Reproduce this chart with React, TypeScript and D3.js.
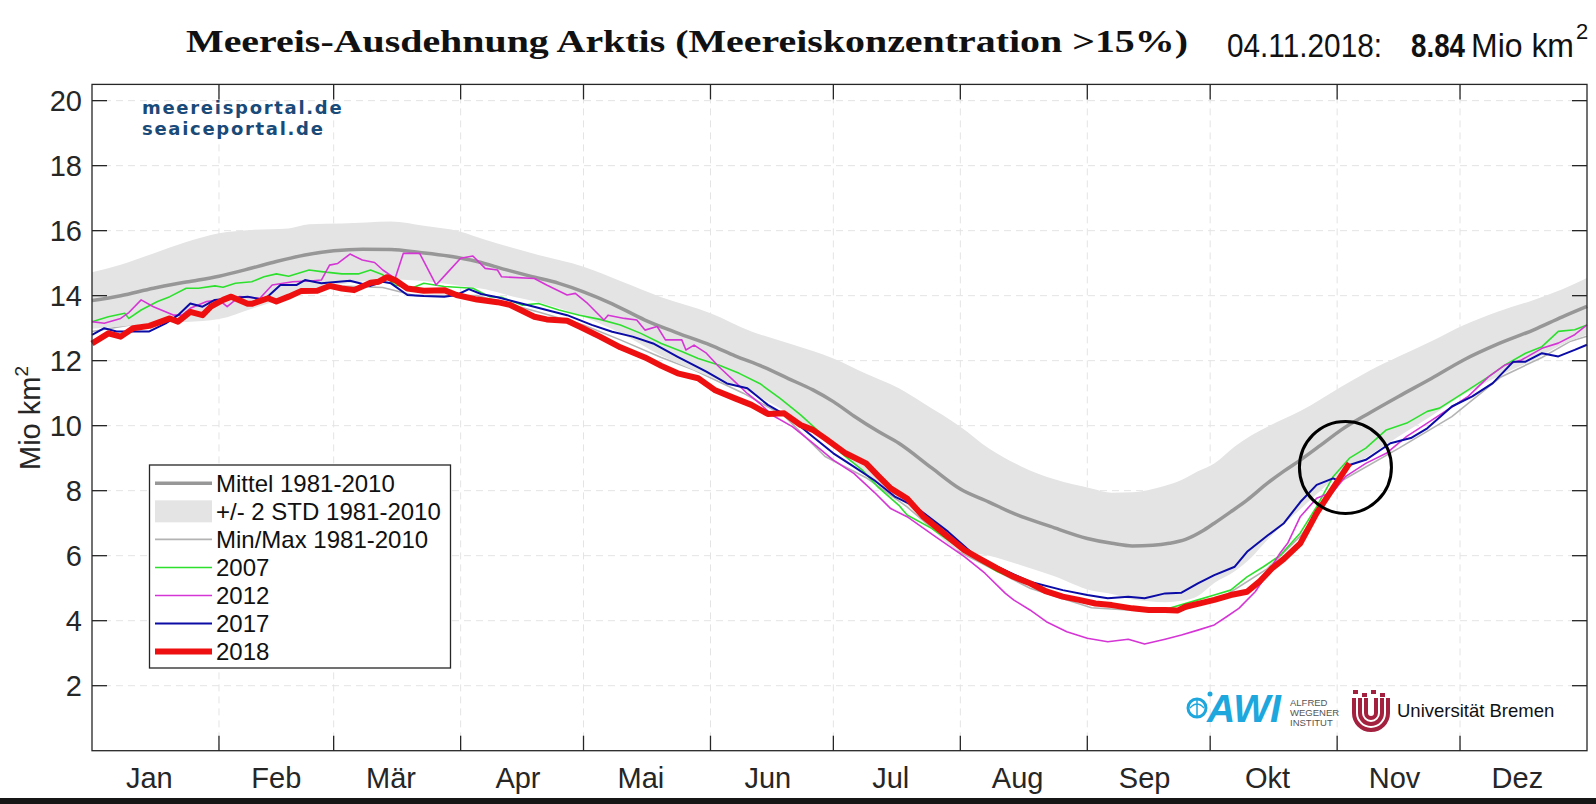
import { useRef, useEffect } from "react";
import * as d3 from "d3";

type Pt = [number, number];

// day of year -> Mio km²
const mean1981: Pt[] = [
  [1, 13.85], [8, 14.0], [16, 14.23], [24, 14.42], [32, 14.6], [40, 14.85], [46, 15.05], [53, 15.25], [60, 15.38],
  [67, 15.43], [74, 15.42], [81, 15.33], [88, 15.22], [95, 15.05], [102, 14.8], [108, 14.6], [115, 14.38], [121, 14.12],
  [128, 13.75], [136, 13.25], [144, 12.85], [152, 12.48], [158, 12.15], [165, 11.8], [171, 11.45], [177, 11.1], [182, 10.74],
  [187, 10.3], [193, 9.82], [198, 9.46], [206, 8.7], [213, 8.05], [220, 7.65], [226, 7.3], [235, 6.9], [244, 6.53],
  [250, 6.38], [255, 6.3], [260, 6.32], [264, 6.38], [268, 6.5], [272, 6.75], [275, 7.0], [279, 7.35], [283, 7.71],
  [288, 8.23], [292, 8.6], [296, 8.94], [301, 9.4], [306, 9.87], [313, 10.4], [320, 10.9], [328, 11.45], [336, 12.03],
  [344, 12.5], [353, 12.95], [360, 13.35], [366, 13.67],
];

const stdDays = [
  1, 8, 16, 24, 32, 40, 49, 54, 62, 68, 74, 82, 91, 97, 103, 110, 121, 130, 140, 152, 162, 172, 182, 190, 198, 204, 213,
  220, 228, 236, 245, 250, 255, 259, 263, 267, 271, 275, 280, 284, 288, 296, 306, 313, 320, 328, 336, 344, 353, 360, 366,
];
const stdUpper = [
  14.72, 14.95, 15.3, 15.65, 15.92, 16.02, 16.07, 16.2, 16.22, 16.25, 16.28, 16.15, 15.97, 15.72, 15.5, 15.25, 14.89,
  14.45, 13.95, 13.46, 12.9, 12.5, 12.07, 11.6, 11.15, 10.69, 9.97, 9.3, 8.74, 8.35, 8.07, 7.94, 7.95, 8.02, 8.15, 8.33,
  8.6, 8.84, 9.36, 9.7, 9.97, 10.45, 11.2, 11.7, 12.13, 12.6, 13.1, 13.5, 13.87, 14.2, 14.54,
];
const stdLower = [
  12.98, 13.05, 13.16, 13.19, 13.28, 13.6, 13.95, 14.15, 14.35, 14.45, 14.5, 14.45, 14.3, 14.2, 14.0, 13.8, 13.35,
  12.85, 12.15, 11.5, 11.0, 10.3, 9.41, 8.5, 7.77, 7.11, 6.13, 6.0, 5.7, 5.37, 4.93, 4.82, 4.65, 4.6, 4.57, 4.61, 4.76,
  5.16, 5.52, 5.94, 6.49, 7.43, 8.54, 9.1, 9.67, 10.3, 10.96, 11.5, 12.03, 12.5, 12.8,
];

const min1981: Pt[] = [
  [1, 12.9], [15, 13.2], [32, 13.9], [45, 14.0], [60, 14.3], [72, 14.25], [80, 14.0], [95, 14.0], [110, 13.5],
  [121, 13.1], [130, 12.64], [140, 12.1], [148, 11.71], [160, 11.0], [170, 10.3], [180, 9.05], [190, 8.4], [200, 7.5],
  [213, 6.1], [230, 5.0], [245, 4.4], [258, 4.3], [268, 4.35], [278, 4.8], [288, 5.6], [296, 6.6], [306, 8.3],
  [320, 9.3], [333, 10.28], [345, 11.5], [355, 12.1], [362, 12.6], [366, 12.75],
];

const y2007: Pt[] = [
  [1, 13.2], [5, 13.35], [9, 13.46], [10, 13.3], [13, 13.56], [17, 13.82], [20, 13.97], [24, 14.23], [27, 14.23],
  [31, 14.3], [33, 14.26], [36, 14.38], [40, 14.43], [43, 14.58], [46, 14.67], [49, 14.6], [54, 14.79], [57, 14.74],
  [62, 14.67], [66, 14.67], [69, 14.79], [72, 14.64], [75, 14.33], [79, 14.23], [82, 14.38], [87, 14.28], [90, 14.26],
  [94, 14.23], [98, 13.97], [101, 13.95], [106, 13.71], [110, 13.76], [115, 13.56], [120, 13.4], [125, 13.27], [130, 13.1],
  [135, 12.84], [140, 12.53], [145, 12.28], [149, 12.07], [154, 11.87], [159, 11.61], [164, 11.3], [169, 10.84],
  [174, 10.33], [179, 9.76], [184, 9.15], [189, 8.64], [193, 8.1], [198, 7.55], [200, 7.25], [206, 6.84], [214, 6.12],
  [222, 5.51], [230, 5.1], [234, 4.9], [242, 4.66], [250, 4.48], [258, 4.38], [264, 4.38], [271, 4.64], [275, 4.79],
  [279, 4.94], [283, 5.35], [287, 5.66], [291, 6.0], [296, 6.7], [300, 7.51], [304, 8.43], [308, 9.0], [312, 9.31],
  [317, 9.87], [322, 10.08], [327, 10.44], [330, 10.54], [337, 11.1], [342, 11.51], [346, 11.87], [351, 12.23],
  [355, 12.43], [359, 12.9], [363, 12.95], [366, 13.1],
];

const y2012: Pt[] = [
  [1, 13.2], [4, 13.15], [8, 13.3], [10, 13.48], [13, 13.87], [16, 13.66], [21, 13.4], [23, 13.4], [25, 13.61],
  [29, 13.82], [32, 13.87], [34, 13.66], [37, 13.97], [42, 13.92], [45, 14.33], [50, 14.43], [55, 14.46], [57, 14.48],
  [59, 14.94], [61, 14.99], [64, 15.28], [67, 15.1], [70, 15.02], [72, 14.79], [75, 14.53], [77, 15.3], [81, 15.3],
  [85, 14.33], [88, 14.74], [91, 15.15], [94, 15.22], [97, 14.84], [100, 14.79], [101, 14.58], [109, 14.53], [112, 14.33],
  [117, 14.02], [119, 14.07], [122, 13.76], [126, 13.25], [127, 13.4], [131, 13.3], [134, 13.25], [136, 12.94],
  [139, 13.05], [141, 12.64], [145, 12.64], [146, 12.33], [148, 12.48], [151, 12.23], [154, 11.82], [158, 11.35],
  [161, 10.99], [164, 10.69], [167, 10.33], [172, 9.97], [177, 9.46], [182, 8.94], [187, 8.53], [192, 7.95], [196, 7.45],
  [200, 7.2], [207, 6.58], [214, 5.97], [219, 5.46], [224, 4.84], [226, 4.64], [230, 4.33], [234, 3.97], [239, 3.66],
  [244, 3.46], [249, 3.35], [254, 3.43], [258, 3.28], [263, 3.43], [267, 3.56], [271, 3.71], [275, 3.87], [278, 4.12],
  [281, 4.38], [285, 4.89], [288, 5.46], [291, 6.07], [293, 6.4], [296, 7.2], [300, 7.77], [304, 7.97], [307, 8.43],
  [312, 8.84], [317, 9.15], [322, 9.67], [327, 10.08], [332, 10.49], [337, 10.9], [342, 11.51], [346, 11.87],
  [350, 12.02], [355, 12.38], [359, 12.54], [363, 12.8], [366, 13.1],
];

const y2017: Pt[] = [
  [1, 12.79], [4, 13.0], [7, 12.9], [11, 12.9], [15, 12.9], [19, 13.15], [22, 13.4], [25, 13.76], [28, 13.66],
  [31, 13.87], [35, 13.92], [39, 13.97], [43, 13.87], [47, 14.33], [51, 14.33], [53, 14.48], [57, 14.38], [64, 14.46],
  [69, 14.3], [72, 14.43], [74, 14.38], [78, 14.02], [82, 13.99], [87, 13.97], [90, 14.02], [93, 14.2], [96, 14.05],
  [100, 13.95], [104, 13.82], [112, 13.56], [117, 13.4], [123, 13.1], [128, 12.89], [133, 12.74], [138, 12.53],
  [144, 12.12], [151, 11.66], [156, 11.3], [161, 11.15], [166, 10.64], [171, 10.28], [177, 9.66], [182, 9.15],
  [187, 8.74], [192, 8.32], [197, 7.82], [202, 7.51], [210, 6.74], [216, 6.07], [222, 5.66], [230, 5.2], [238, 4.94],
  [244, 4.79], [249, 4.69], [254, 4.74], [258, 4.69], [263, 4.84], [267, 4.86], [271, 5.15], [275, 5.4], [280, 5.66],
  [283, 6.12], [288, 6.62], [292, 7.0], [296, 7.65], [300, 8.18], [304, 8.38], [305, 8.33], [308, 8.79], [312, 8.95],
  [318, 9.46], [323, 9.62], [327, 9.92], [333, 10.59], [338, 10.9], [343, 11.31], [348, 11.97], [351, 11.97],
  [355, 12.23], [359, 12.13], [363, 12.33], [366, 12.49],
];

const y2018: Pt[] = [
  [1, 12.53], [5, 12.84], [8, 12.74], [11, 13.0], [15, 13.07], [20, 13.3], [22, 13.2], [25, 13.5], [28, 13.4],
  [30, 13.66], [33, 13.87], [35, 13.97], [39, 13.75], [40, 13.75], [44, 13.92], [46, 13.82], [49, 13.97], [52, 14.14],
  [56, 14.15], [59, 14.3], [62, 14.22], [65, 14.17], [69, 14.4], [71, 14.43], [73, 14.57], [75, 14.48], [78, 14.22],
  [82, 14.15], [87, 14.17], [90, 14.02], [95, 13.88], [100, 13.8], [103, 13.72], [109, 13.35], [112, 13.27], [117, 13.23],
  [120, 13.05], [125, 12.74], [130, 12.41], [136, 12.1], [140, 11.84], [144, 11.61], [149, 11.46], [153, 11.1],
  [158, 10.84], [162, 10.64], [166, 10.36], [170, 10.38], [174, 10.02], [177, 9.87], [180, 9.61], [185, 9.15],
  [190, 8.84], [193, 8.45], [196, 8.07], [200, 7.76], [204, 7.2], [210, 6.58], [214, 6.17], [218, 5.89], [222, 5.61],
  [226, 5.35], [230, 5.15], [234, 4.9], [238, 4.74], [242, 4.64], [246, 4.53], [250, 4.48], [255, 4.38], [259, 4.33],
  [263, 4.33], [266, 4.31], [268, 4.43], [272, 4.55], [275, 4.64], [279, 4.79], [283, 4.89], [286, 5.2], [289, 5.6],
  [292, 5.9], [296, 6.38], [300, 7.31], [304, 8.08], [308, 8.84],
];

const monthStarts = [32, 60, 91, 121, 152, 182, 213, 244, 274, 305, 335];
const monthLabelDays = [15, 46, 74, 105, 135, 166, 196, 227, 258, 288, 319, 349];
const monthNames = ["Jan", "Feb", "Mär", "Apr", "Mai", "Jun", "Jul", "Aug", "Sep", "Okt", "Nov", "Dez"];
const yTicks = [2, 4, 6, 8, 10, 12, 14, 16, 18, 20];

const W = 1596;
const H = 804;
const FONT = "'Liberation Sans', Arial, sans-serif";

export default function App() {
  const svgRef = useRef<SVGSVGElement | null>(null);

  useEffect(() => {
    if (!svgRef.current) return;
    const svg = d3.select(svgRef.current);
    svg.selectAll("*").remove();

    const left = 92, right = 1587, top = 84.4, bottom = 750.7;
    const x = d3.scaleLinear().domain([1, 366]).range([left, right]);
    const y = d3.scaleLinear().domain([0, 20.5]).range([bottom, top]);

    svg.append("rect").attr("width", W).attr("height", H).attr("fill", "#fff");

    // grid
    const grid = svg.append("g").attr("stroke", "#e4e4e4").attr("stroke-width", 1).attr("stroke-dasharray", "7,5");
    grid.selectAll("line.h").data(yTicks).enter().append("line")
      .attr("x1", left).attr("x2", right).attr("y1", (d) => y(d)).attr("y2", (d) => y(d));
    grid.selectAll("line.v").data(monthStarts).enter().append("line")
      .attr("y1", top).attr("y2", bottom).attr("x1", (d) => x(d)).attr("x2", (d) => x(d));

    const line = d3.line<Pt>().x((d) => x(d[0])).y((d) => y(d[1])).curve(d3.curveLinear);

    // min line (under band)
    svg.append("path").attr("d", line(min1981) as string).attr("fill", "none")
      .attr("stroke", "#b3b3b3").attr("stroke-width", 1.6);

    // +/- 2 STD band
    const area = d3.area<number>()
      .x((_, i) => x(stdDays[i]))
      .y0((_, i) => y(stdLower[i]))
      .y1((_, i) => y(stdUpper[i]))
      .curve(d3.curveMonotoneX);
    svg.append("path").attr("d", area(stdUpper) as string).attr("fill", "#e4e4e4");

    // mean
    svg.append("path").attr("d", line.curve(d3.curveMonotoneX)(mean1981) as string).attr("fill", "none")
      .attr("stroke", "#979797").attr("stroke-width", 3.5);
    line.curve(d3.curveLinear);

    const years: { data: Pt[]; color: string; w: number }[] = [
      { data: y2007, color: "#2ee02e", w: 1.6 },
      { data: y2012, color: "#d535d5", w: 1.6 },
      { data: y2017, color: "#0b0ba6", w: 2 },
      { data: y2018, color: "#ee1010", w: 6 },
    ];
    years.forEach((s) => {
      svg.append("path").attr("d", line(s.data) as string).attr("fill", "none")
        .attr("stroke", s.color).attr("stroke-width", s.w).attr("stroke-linejoin", "round");
    });

    // circle around latest value
    const last = y2018[y2018.length - 1];
    svg.append("circle").attr("cx", x(last[0]) - 4).attr("cy", y(last[1]) + 4).attr("r", 46)
      .attr("fill", "none").attr("stroke", "#000").attr("stroke-width", 3);

    // axes box and ticks
    svg.append("rect").attr("x", left).attr("y", top).attr("width", right - left).attr("height", bottom - top)
      .attr("fill", "none").attr("stroke", "#262626").attr("stroke-width", 1.3);
    const ticks = svg.append("g").attr("stroke", "#262626").attr("stroke-width", 1.3);
    yTicks.forEach((t) => {
      ticks.append("line").attr("x1", left).attr("x2", left + 15).attr("y1", y(t)).attr("y2", y(t));
      ticks.append("line").attr("x1", right - 15).attr("x2", right).attr("y1", y(t)).attr("y2", y(t));
    });
    monthStarts.forEach((m) => {
      ticks.append("line").attr("y1", bottom).attr("y2", bottom - 15).attr("x1", x(m)).attr("x2", x(m));
      ticks.append("line").attr("y1", top).attr("y2", top + 15).attr("x1", x(m)).attr("x2", x(m));
    });

    svg.append("g").selectAll("text").data(yTicks).enter().append("text")
      .attr("x", left - 10).attr("y", (d) => y(d)).attr("dy", "0.36em").attr("text-anchor", "end")
      .attr("font-family", FONT).attr("font-size", 29).attr("fill", "#262626").text((d) => d);
    svg.append("g").selectAll("text").data(monthNames).enter().append("text")
      .attr("x", (_, i) => x(monthLabelDays[i])).attr("y", 788).attr("text-anchor", "middle")
      .attr("font-family", FONT).attr("font-size", 29).attr("fill", "#262626").text((d) => d);

    // y label
    const yl = svg.append("text").attr("transform", "translate(40,418) rotate(-90)").attr("text-anchor", "middle")
      .attr("font-family", FONT).attr("font-size", 29).attr("fill", "#262626");
    yl.append("tspan").text("Mio km");
    yl.append("tspan").attr("font-size", 19).attr("dy", -12).text("2");

    // title
    svg.append("text").attr("x", 186).attr("y", 52).attr("textLength", 1002).attr("lengthAdjust", "spacingAndGlyphs")
      .attr("font-family", "'Liberation Serif', 'Times New Roman', serif").attr("font-weight", "bold")
      .attr("font-size", 32).attr("fill", "#111").text("Meereis-Ausdehnung Arktis (Meereiskonzentration >15%)");
    const info = svg.append("g").attr("font-family", FONT).attr("font-size", 34).attr("fill", "#111");
    info.append("text").attr("x", 1227).attr("y", 57).attr("textLength", 155).attr("lengthAdjust", "spacingAndGlyphs")
      .text("04.11.2018:");
    info.append("text").attr("x", 1411).attr("y", 57).attr("textLength", 54).attr("lengthAdjust", "spacingAndGlyphs")
      .attr("font-weight", "bold").text(last[1].toFixed(2));
    const unit = info.append("text").attr("x", 1471).attr("y", 57);
    unit.append("tspan").attr("textLength", 103).attr("lengthAdjust", "spacingAndGlyphs").text("Mio km");
    unit.append("tspan").attr("font-size", 22).attr("dx", 2).attr("dy", -18).text("2");

    // watermark
    const wm = svg.append("g").attr("font-family", "'DejaVu Sans', sans-serif").attr("font-weight", "bold")
      .attr("font-size", 18).attr("fill", "#1a4a78").attr("letter-spacing", 1.7);
    wm.append("text").attr("x", 142).attr("y", 114).text("meereisportal.de");
    wm.append("text").attr("x", 142).attr("y", 135).text("seaiceportal.de");

    // legend
    const lg = svg.append("g");
    lg.append("rect").attr("x", 149.5).attr("y", 465).attr("width", 301).attr("height", 203)
      .attr("fill", "#fff").attr("stroke", "#262626").attr("stroke-width", 1.3);
    const legendItems = [
      { label: "Mittel 1981-2010", color: "#979797", w: 3.5, patch: false },
      { label: "+/- 2 STD 1981-2010", color: "#e4e4e4", w: 0, patch: true },
      { label: "Min/Max 1981-2010", color: "#b3b3b3", w: 1.6, patch: false },
      { label: "2007", color: "#2ee02e", w: 1.6, patch: false },
      { label: "2012", color: "#d535d5", w: 1.6, patch: false },
      { label: "2017", color: "#0b0ba6", w: 2, patch: false },
      { label: "2018", color: "#ee1010", w: 6, patch: false },
    ];
    legendItems.forEach((it, i) => {
      const cy = 483.3 + i * 28.05;
      if (it.patch) {
        lg.append("rect").attr("x", 155).attr("y", cy - 11).attr("width", 57).attr("height", 22).attr("fill", it.color);
      } else {
        lg.append("line").attr("x1", 155).attr("x2", 212).attr("y1", cy).attr("y2", cy)
          .attr("stroke", it.color).attr("stroke-width", it.w);
      }
      lg.append("text").attr("x", 216).attr("y", cy).attr("dy", "0.36em").attr("font-family", FONT)
        .attr("font-size", 24).attr("fill", "#111").text(it.label);
    });

    // AWI logo
    const awi = svg.append("g");
    awi.append("circle").attr("cx", 1197).attr("cy", 708).attr("r", 9).attr("fill", "none")
      .attr("stroke", "#1ea7dd").attr("stroke-width", 3);
    awi.append("path").attr("d", "M1190,708 Q1197,700 1204,708 M1197,699 L1197,717").attr("fill", "none")
      .attr("stroke", "#1ea7dd").attr("stroke-width", 1.5);
    awi.append("circle").attr("cx", 1210).attr("cy", 694).attr("r", 2.5).attr("fill", "#1ea7dd");
    awi.append("text").attr("x", 1207).attr("y", 722).attr("textLength", 74).attr("lengthAdjust", "spacingAndGlyphs")
      .attr("font-family", FONT).attr("font-weight", "bold").attr("font-style", "italic")
      .attr("font-size", 38).attr("fill", "#1ea7dd").text("AWI");
    ["ALFRED", "WEGENER", "INSTITUT"].forEach((t, i) => {
      awi.append("text").attr("x", 1290).attr("y", 706 + i * 10).attr("font-family", FONT)
        .attr("font-size", 9.5).attr("fill", "#555").text(t);
    });

    // Universität Bremen logo
    const ub = svg.append("g").attr("fill", "none").attr("stroke", "#a3203f").attr("stroke-width", 4);
    [17, 11, 5].forEach((r) => {
      ub.append("path").attr("d", `M${1371 - r},698 L${1371 - r},${713} A${r},${r} 0 0 0 ${1371 + r},713 L${1371 + r},698`);
    });
    [0, 1, 2, 3].forEach((i) => {
      svg.append("rect").attr("x", 1353 + i * 9).attr("y", 690 + (i % 2) * 3).attr("width", 5).attr("height", 4)
        .attr("fill", "#a3203f");
    });
    svg.append("text").attr("x", 1397).attr("y", 717).attr("font-family", FONT).attr("font-size", 18.5)
      .attr("fill", "#111").text("Universität Bremen");

    // dark strip at the bottom
    svg.append("rect").attr("x", 0).attr("y", 798).attr("width", W).attr("height", 6).attr("fill", "#161616");
  }, []);

  return (
    <svg
      ref={svgRef}
      width={W}
      height={H}
      style={{ position: "absolute", left: 0, top: 0, display: "block" }}
    />
  );
}
